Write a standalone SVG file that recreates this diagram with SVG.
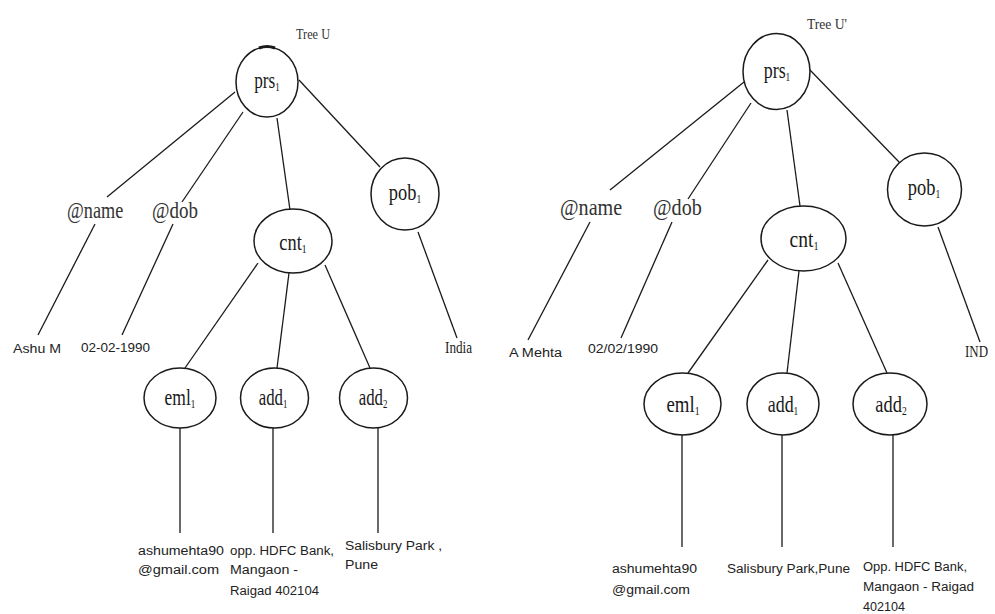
<svg xmlns="http://www.w3.org/2000/svg" width="995" height="614" viewBox="0 0 995 614">
<style>
.bg{fill:#fff}
.node{fill:#fff;stroke:#1a1a1a;stroke-width:1.5}
.edge{stroke:#1a1a1a;stroke-width:1.3;fill:none}
.lbl{font-family:"Liberation Serif","Times New Roman",serif;font-size:23px;fill:#1a1a1a;text-anchor:middle}
.sub{font-size:12px}
.attr{font-family:"Liberation Serif","Times New Roman",serif;font-size:24px;fill:#333}
.val{font-family:"Liberation Sans",Arial,sans-serif;font-size:12.5px;fill:#222}
.sval{font-family:"Liberation Serif","Times New Roman",serif;font-size:16px;fill:#222}
.title{font-family:"Liberation Serif","Times New Roman",serif;font-size:14px;fill:#333}
</style>
<rect class="bg" x="0" y="0" width="995" height="614"/>

<g id="connectors">
  <line class="edge" x1="235" y1="92" x2="107" y2="197"/>
  <line class="edge" x1="243" y1="112" x2="182" y2="202"/>
  <line class="edge" x1="277" y1="118" x2="290" y2="210"/>
  <line class="edge" x1="299" y1="80" x2="380" y2="167"/>
  <line class="edge" x1="95" y1="224" x2="38" y2="335"/>
  <line class="edge" x1="173" y1="224" x2="122" y2="335"/>
  <line class="edge" x1="418" y1="232" x2="457" y2="338"/>
  <line class="edge" x1="258" y1="263" x2="185" y2="368"/>
  <line class="edge" x1="289" y1="273" x2="277" y2="368"/>
  <line class="edge" x1="325" y1="265" x2="370" y2="368"/>
  <line class="edge" x1="180" y1="428" x2="180" y2="533"/>
  <line class="edge" x1="273" y1="428" x2="273" y2="533"/>
  <line class="edge" x1="378" y1="428" x2="378" y2="533"/>
  <line class="edge" x1="744" y1="82" x2="610" y2="190"/>
  <line class="edge" x1="751" y1="103" x2="688" y2="199"/>
  <line class="edge" x1="787" y1="110" x2="800" y2="206"/>
  <line class="edge" x1="809" y1="69" x2="900" y2="163"/>
  <line class="edge" x1="590" y1="222" x2="528" y2="340"/>
  <line class="edge" x1="672" y1="222" x2="621" y2="338"/>
  <line class="edge" x1="938" y1="227" x2="980" y2="342"/>
  <line class="edge" x1="768" y1="260" x2="688" y2="373"/>
  <line class="edge" x1="799" y1="271" x2="787" y2="373"/>
  <line class="edge" x1="838" y1="263" x2="887" y2="373"/>
  <line class="edge" x1="682" y1="435" x2="682" y2="547"/>
  <line class="edge" x1="782" y1="435" x2="782" y2="547"/>
  <line class="edge" x1="893" y1="435" x2="893" y2="547"/>
</g>

<text class="title" x="296" y="39" textLength="34" lengthAdjust="spacingAndGlyphs">Tree U</text>

<g id="L-prs1">
  <ellipse class="node" cx="267" cy="82" rx="31" ry="35"/>
  <path d="M259 48 Q267 45 275 48" stroke="#1a1a1a" stroke-width="3" fill="none"/>
  <text class="lbl" transform="translate(267,88) scale(0.75,1)">prs<tspan class="sub" dy="3">1</tspan></text>
</g>
<g id="L-pob1">
  <ellipse class="node" cx="405" cy="194" rx="34" ry="36"/>
  <text class="lbl" transform="translate(405,200) scale(0.8,1)">pob<tspan class="sub" dy="3">1</tspan></text>
</g>
<g id="L-cnt1">
  <ellipse class="node" cx="293" cy="241" rx="39" ry="32"/>
  <text class="lbl" transform="translate(293,250) scale(0.8,1)">cnt<tspan class="sub" dy="3">1</tspan></text>
</g>
<g id="L-name">
  <text class="attr" transform="translate(67,218) scale(0.76,1)">@name</text>
</g>
<g id="L-dob">
  <text class="attr" transform="translate(152,218) scale(0.79,1)">@dob</text>
</g>
<g id="L-eml1">
  <ellipse class="node" cx="180" cy="398" rx="36" ry="30"/>
  <text class="lbl" transform="translate(180,405) scale(0.76,1)">eml<tspan class="sub" dy="3">1</tspan></text>
</g>
<g id="L-add1">
  <ellipse class="node" cx="274.5" cy="398" rx="34" ry="30"/>
  <text class="lbl" transform="translate(273,405) scale(0.73,1)">add<tspan class="sub" dy="3">1</tspan></text>
</g>
<g id="L-add2">
  <ellipse class="node" cx="373.5" cy="398" rx="34" ry="30"/>
  <text class="lbl" transform="translate(373,405) scale(0.73,1)">add<tspan class="sub" dy="3">2</tspan></text>
</g>
<g id="L-vals">
  <text class="val" x="13" y="353" textLength="48" lengthAdjust="spacingAndGlyphs">Ashu M</text>
  <text class="val" x="81" y="352" textLength="69" lengthAdjust="spacingAndGlyphs">02-02-1990</text>
  <text class="sval" x="445" y="353" textLength="27" lengthAdjust="spacingAndGlyphs">India</text>
  <text class="val" x="138" y="555" textLength="86" lengthAdjust="spacingAndGlyphs">ashumehta90</text>
  <text class="val" x="138" y="574" textLength="81" lengthAdjust="spacingAndGlyphs">@gmail.com</text>
  <text class="val" x="230" y="555" textLength="104" lengthAdjust="spacingAndGlyphs">opp. HDFC Bank,</text>
  <text class="val" x="230" y="574" textLength="68" lengthAdjust="spacingAndGlyphs">Mangaon -</text>
  <text class="val" x="230" y="595" textLength="89" lengthAdjust="spacingAndGlyphs">Raigad 402104</text>
  <text class="val" x="345" y="550" textLength="97" lengthAdjust="spacingAndGlyphs">Salisbury Park ,</text>
  <text class="val" x="345" y="569" textLength="33" lengthAdjust="spacingAndGlyphs">Pune</text>
</g>

<text class="title" x="807" y="29" textLength="40" lengthAdjust="spacingAndGlyphs">Tree U'</text>

<g id="R-prs1">
  <ellipse class="node" cx="776.5" cy="71.5" rx="33.5" ry="38"/>
  <text class="lbl" transform="translate(777,78) scale(0.78,1)">prs<tspan class="sub" dy="3">1</tspan></text>
</g>
<g id="R-pob1">
  <ellipse class="node" cx="924.5" cy="189.5" rx="37" ry="36.5"/>
  <text class="lbl" transform="translate(924,195) scale(0.8,1)">pob<tspan class="sub" dy="3">1</tspan></text>
</g>
<g id="R-cnt1">
  <ellipse class="node" cx="803.5" cy="238.5" rx="42.5" ry="32.5"/>
  <text class="lbl" transform="translate(804,247) scale(0.85,1)">cnt<tspan class="sub" dy="3">1</tspan></text>
</g>
<g id="R-name">
  <text class="attr" transform="translate(560,215) scale(0.84,1)">@name</text>
</g>
<g id="R-dob">
  <text class="attr" transform="translate(653,215) scale(0.84,1)">@dob</text>
</g>
<g id="R-eml1">
  <ellipse class="node" cx="682.5" cy="404" rx="38.5" ry="31"/>
  <text class="lbl" transform="translate(683,412) scale(0.82,1)">eml<tspan class="sub" dy="3">1</tspan></text>
</g>
<g id="R-add1">
  <ellipse class="node" cx="783" cy="404" rx="36" ry="31"/>
  <text class="lbl" transform="translate(783,412) scale(0.78,1)">add<tspan class="sub" dy="3">1</tspan></text>
</g>
<g id="R-add2">
  <ellipse class="node" cx="890" cy="404" rx="37" ry="31"/>
  <text class="lbl" transform="translate(891,412) scale(0.8,1)">add<tspan class="sub" dy="3">2</tspan></text>
</g>
<g id="R-vals">
  <text class="val" x="509" y="357" textLength="53" lengthAdjust="spacingAndGlyphs">A Mehta</text>
  <text class="val" x="588" y="353" textLength="70" lengthAdjust="spacingAndGlyphs">02/02/1990</text>
  <text class="sval" x="965" y="357" textLength="23" lengthAdjust="spacingAndGlyphs">IND</text>
  <text class="val" x="612" y="573" textLength="85" lengthAdjust="spacingAndGlyphs">ashumehta90</text>
  <text class="val" x="612" y="594" textLength="78" lengthAdjust="spacingAndGlyphs">@gmail.com</text>
  <text class="val" x="727" y="573" textLength="123" lengthAdjust="spacingAndGlyphs">Salisbury Park,Pune</text>
  <text class="val" x="863" y="571" textLength="104" lengthAdjust="spacingAndGlyphs">Opp. HDFC Bank,</text>
  <text class="val" x="863" y="591" textLength="111" lengthAdjust="spacingAndGlyphs">Mangaon - Raigad</text>
  <text class="val" x="863" y="611" textLength="42" lengthAdjust="spacingAndGlyphs">402104</text>
</g>
</svg>
